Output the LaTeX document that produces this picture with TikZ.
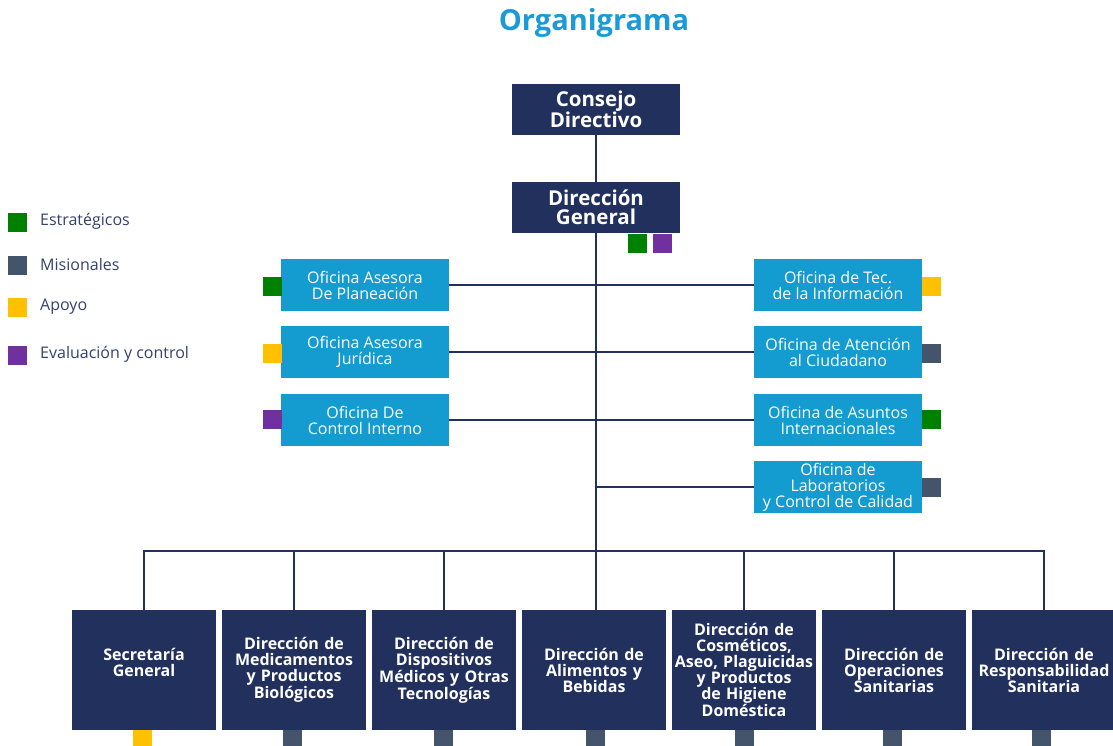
\documentclass[tikz,border=0pt]{standalone}
\usepackage{fontspec}
\setmainfont{Open Sans}
\definecolor{navyc}{HTML}{22305E}
\definecolor{lightc}{HTML}{149BCF}
\definecolor{titlec}{HTML}{1A9BD7}
\definecolor{greenc}{HTML}{008000}
\definecolor{grayc}{HTML}{44546A}
\definecolor{yellowc}{HTML}{FFC000}
\definecolor{purplec}{HTML}{7030A0}
\definecolor{legc}{HTML}{34406E}
\begin{document}
\begin{tikzpicture}[x=1pt,y=-1pt,
  topbox/.style={fill=navyc,text=white,font=\bfseries\fontsize{20.5}{19}\selectfont,align=center,inner sep=0pt,minimum width=168,minimum height=51},
  office/.style={fill=lightc,text=white,font=\fontsize{16}{16}\selectfont,align=center,inner sep=0pt,minimum width=168,minimum height=52},
  unitbox/.style={fill=navyc,text=white,font=\bfseries\fontsize{16}{16}\selectfont,align=center,text width=142,inner sep=0pt,minimum width=144,minimum height=120},
  sq/.style={inner sep=0pt,minimum size=19,draw=none},
  legtext/.style={anchor=west,text=legc,font=\fontsize{16}{16}\selectfont,inner sep=0pt},
  conn/.style={draw=navyc,line width=2.8}]
\useasboundingbox (0,0) rectangle (1113,746);

% title
\node[text=titlec,font=\bfseries\fontsize{29}{29}\selectfont] (title) at (594,23) {Organigrama};

% legend
\node[sq,fill=greenc] (lg1) at (17.5,222) {};
\node[sq,fill=grayc] (lg2) at (17.5,265.5) {};
\node[sq,fill=yellowc] (lg3) at (17.5,307.5) {};
\node[sq,fill=purplec] (lg4) at (17.5,355.5) {};
\node[legtext] (lt1) at (40,221) {Estratégicos};
\node[legtext] (lt2) at (40,264) {Misionales};
\node[legtext] (lt3) at (40,307) {Apoyo};
\node[legtext] (lt4) at (40,354) {Evaluación y control};

% top
\node[topbox] (cd) at (596,109.5) {Consejo\\Directivo};
\node[topbox] (dg) at (596,207.5) {Dirección\\General};
\node[sq,fill=greenc] (dgs1) at (637.5,243.5) {};
\node[sq,fill=purplec] (dgs2) at (662.5,243.5) {};

% left offices
\node[office] (l1) at (365,285) {Oficina Asesora\\De Planeación};
\node[office] (l2) at (365,352) {Oficina Asesora\\Jurídica};
\node[office] (l3) at (365,420) {Oficina De\\Control Interno};
\node[sq,fill=greenc] (l1s) at (272,286.5) {};
\node[sq,fill=yellowc] (l2s) at (272,353.5) {};
\node[sq,fill=purplec] (l3s) at (272,419.5) {};

% right offices
\node[office] (r1) at (838,285) {Oficina de Tec.\\de la Información};
\node[office] (r2) at (838,352) {Oficina de Atención\\al Ciudadano};
\node[office] (r3) at (838,420) {Oficina de Asuntos\\Internacionales};
\node[office] (r4) at (838,487) {Oficina de\\Laboratorios\\y Control de Calidad};
\node[sq,fill=yellowc] (r1s) at (931.5,286.5) {};
\node[sq,fill=grayc] (r2s) at (931.5,353.5) {};
\node[sq,fill=greenc] (r3s) at (931.5,419.5) {};
\node[sq,fill=grayc] (r4s) at (931.5,487.5) {};

% bottom units
\node[unitbox] (b1) at (144,670) {Secretaría\\General\\~};
\node[unitbox] (b2) at (294,670) {Dirección de\\Medicamentos\\y Productos\\Biológicos};
\node[unitbox] (b3) at (444,670) {Dirección de\\Dispositivos\\Médicos y Otras\\Tecnologías};
\node[unitbox] (b4) at (594,670) {Dirección de\\Alimentos y\\Bebidas};
\node[unitbox] (b5) at (744,670) {Dirección de\\Cosméticos,\\Aseo, Plaguicidas\\y Productos\\de Higiene\\Doméstica};
\node[unitbox] (b6) at (894,670) {Dirección de\\Operaciones\\Sanitarias};
\node[unitbox] (b7) at (1044,670) {Dirección de\\Responsabilidad\\Sanitaria};
\node[sq,fill=yellowc] (b1s) at (142.5,739.5) {};
\node[sq,fill=grayc] (b2s) at (292.5,739.5) {};
\node[sq,fill=grayc] (b3s) at (443,739.5) {};
\node[sq,fill=grayc] (b4s) at (595.5,739.5) {};
\node[sq,fill=grayc] (b5s) at (744.5,739.5) {};
\node[sq,fill=grayc] (b6s) at (892.5,739.5) {};
\node[sq,fill=grayc] (b7s) at (1041.5,739.5) {};

% connectors
\coordinate (bus) at (596,551);
\draw[conn] (cd.south) -- (dg.north);
\draw[conn] (dg.south) -- (dg.south |- b4.north);
\foreach \n in {l1,l2,l3}{\draw[conn] (\n.east) -- (\n.east -| dg.south);}
\foreach \n in {r1,r2,r3,r4}{\draw[conn] (\n.west) -- (\n.west -| dg.south);}
\draw[conn] (b1.north) -- (b1.north |- bus) -- (b7.north |- bus) -- (b7.north);
\foreach \n in {b2,b3,b5,b6}{\draw[conn] (\n.north) -- (\n.north |- bus);}
\end{tikzpicture}
\end{document}
